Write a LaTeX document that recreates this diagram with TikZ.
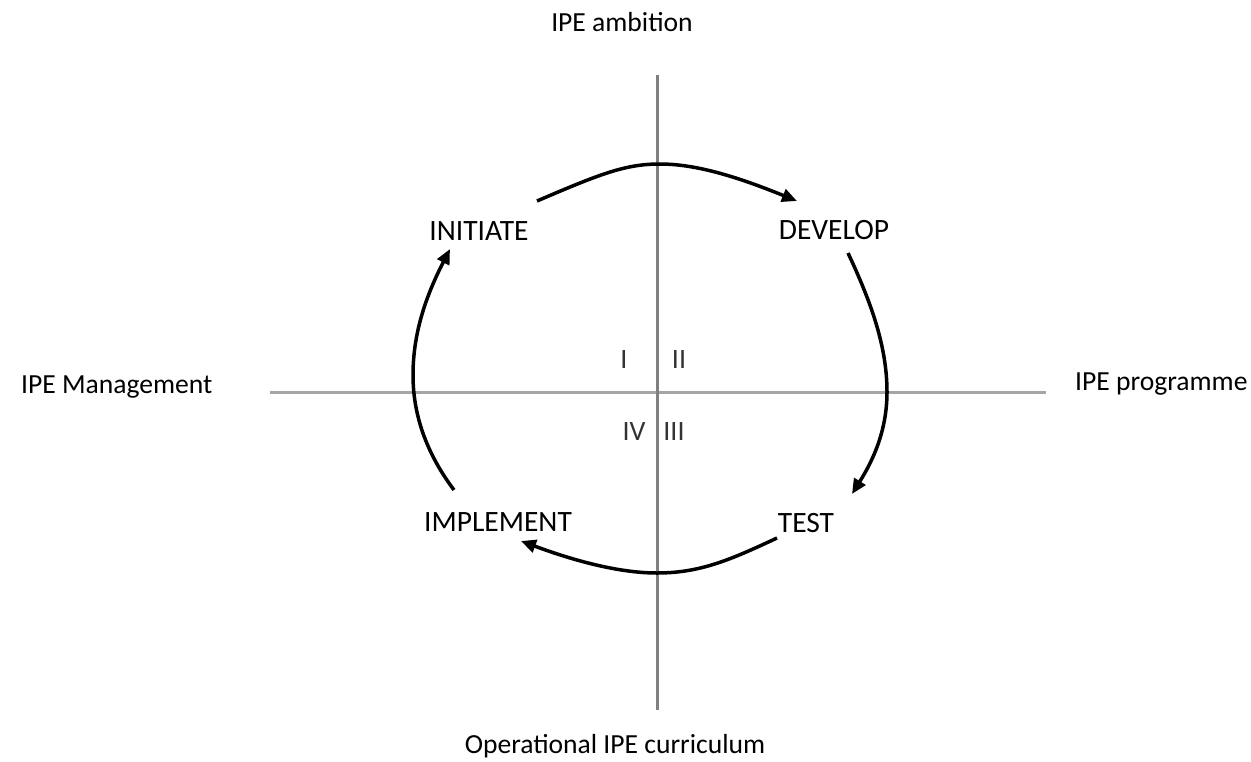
\documentclass[tikz,border=0pt]{standalone}
\usepackage{fontspec}
\setmainfont{Carlito}
\usetikzlibrary{arrows.meta}
\begin{document}
\begin{tikzpicture}[x=1pt,y=-1pt,
  lbl/.style={font=\fontsize{27.6}{32}\selectfont, inner sep=0pt},
  stage/.style={font=\fontsize{29.5}{34}\selectfont, inner sep=0pt},
  num/.style={font=\fontsize{28}{32}\selectfont, inner sep=0pt, text=black!80},
  cyc/.style={line width=3.5pt, -{Triangle[length=15pt,width=13pt]}}]
\useasboundingbox (0,0) rectangle (1251,761);
% axes
\coordinate (vtop) at (657,75);
\coordinate (vbot) at (657,710);
\coordinate (hl) at (270,392);
\coordinate (hr) at (1046,392);
\draw[line width=3pt, black!35] (hl) -- (hr);
\draw[line width=3pt, black!50] (vtop) -- (vbot);
% axis labels
\node[lbl] (amb) at (622,22) {IPE ambition};
\node[lbl] (cur) at (615,746) {Operational IPE curriculum};
\node[lbl, anchor=west] (man) at (21,387) {IPE Management};
\node[lbl, anchor=west] (prog) at (1075,384) {IPE programme};
% stages
\node[stage] (init) at (479,231) {INITIATE};
\node[stage] (dev) at (834,230) {DEVELOP};
\node[stage] (test) at (806,523) {TEST};
\node[stage] (impl) at (498,522) {IMPLEMENT};
% quadrant numerals
\node[num] (q1) at (624,360) {I};
\node[num] (q2) at (679,360) {II};
\node[num] (q4) at (634,432) {IV};
\node[num] (q3) at (674,432) {III};
% cycle
\coordinate (a1) at (537,201);
\coordinate (a2) at (797,201);
\coordinate (b1) at (848,253);
\coordinate (b2) at (852,494);
\coordinate (c1) at (777,538);
\coordinate (c2) at (521,541);
\coordinate (d1) at (454,490);
\coordinate (d2) at (450,249);
\draw[cyc] (a1) .. controls (600,174) and (625,164) .. (660,164) .. controls (700,164) and (745,180) .. (a2);
\draw[cyc] (b1) .. controls (870,300) and (887,345) .. (887,392) .. controls (887,432) and (872,462) .. (b2);
\draw[cyc] (c1) .. controls (730,560) and (700,573) .. (657,573) .. controls (618,573) and (572,560) .. (c2);
\draw[cyc] (d1) .. controls (430,458) and (413,420) .. (413,375) .. controls (413,330) and (428,292) .. (d2);
\end{tikzpicture}
\end{document}
